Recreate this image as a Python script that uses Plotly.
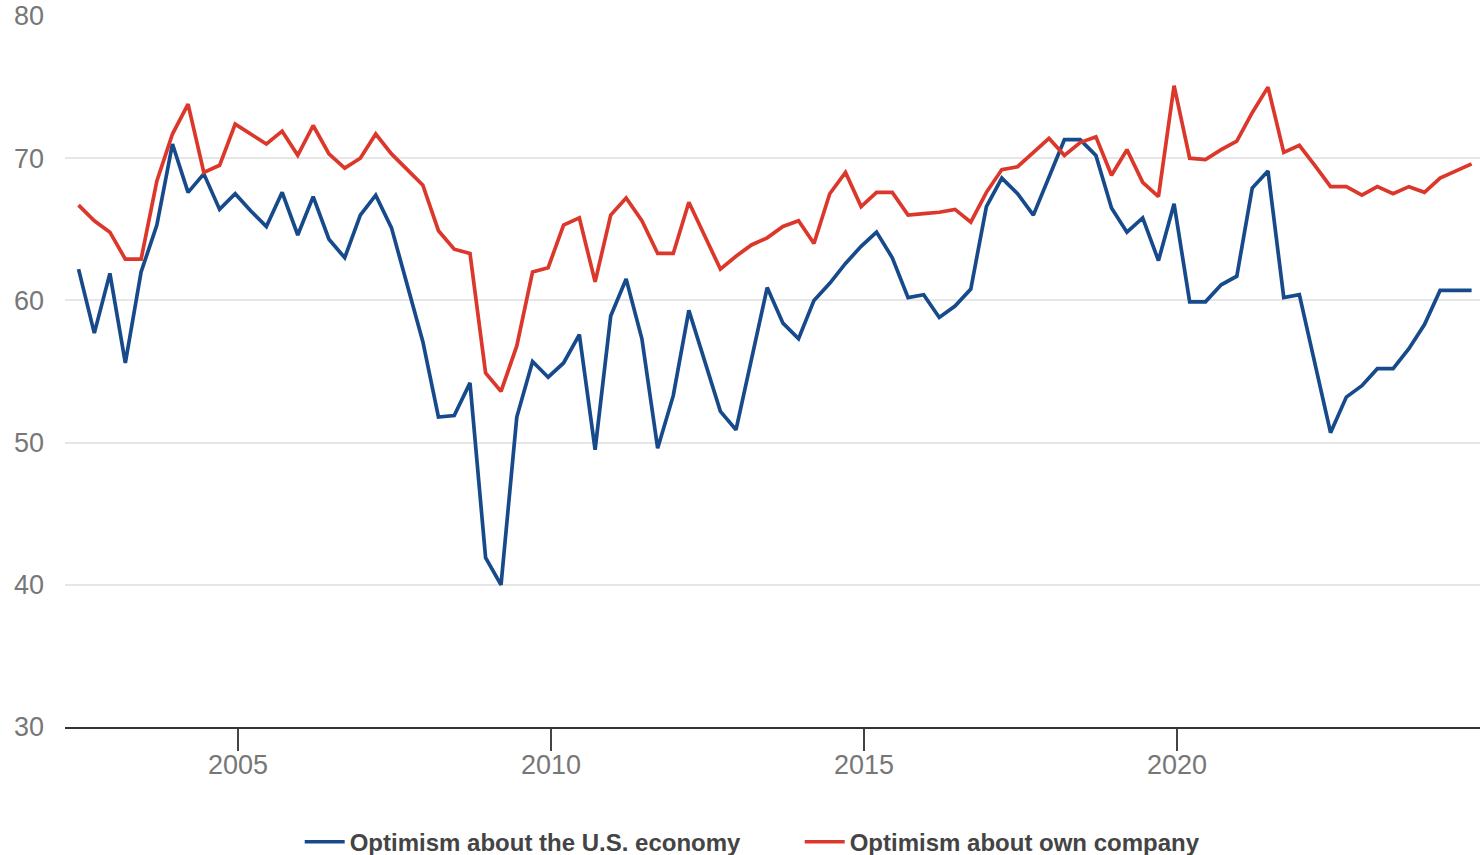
import pandas as pd
import plotly.graph_objects as go

# Quarterly survey dates (mid-month of each survey quarter)
dates = pd.date_range("2002-06-15", periods=90, freq=pd.DateOffset(months=3))

us_economy = [
    62.2, 57.7, 61.9, 55.6, 62.0, 65.3, 71.0, 67.6, 68.9, 66.4,
    67.5, 66.3, 65.2, 67.6, 64.6, 67.3, 64.3, 63.0, 66.0,
    67.4, 65.1, 61.1, 57.1, 51.8, 51.9, 54.2, 41.9, 40.0, 51.8,
    55.7, 54.6, 55.6, 57.6, 49.5, 58.9, 61.5,
    57.3, 49.6, 53.3, 59.3, 55.7, 52.2, 50.9, 55.9, 60.9, 58.4,
    57.3, 60.0, 61.2, 62.6, 63.8, 64.8, 63.0,
    60.2, 60.4, 58.8, 59.6, 60.8, 66.6, 68.6, 67.5, 66.0, 68.6,
    71.3, 71.3, 70.2, 66.5, 64.8, 65.8, 62.8, 66.8,
    59.9, 59.9, 61.1, 61.7, 67.9, 69.1, 60.2, 60.4, 55.5, 50.7,
    53.2, 54.0, 55.2, 55.2, 56.6, 58.3, 60.7, 60.7, 60.7,
]

own_company = [
    66.7, 65.6, 64.8, 62.9, 62.9, 68.4, 71.7, 73.8, 69.0, 69.5,
    72.4, 71.7, 71.0, 71.9, 70.2, 72.3, 70.3, 69.3, 70.0,
    71.7, 70.3, 69.2, 68.1, 64.9, 63.6, 63.3, 54.9, 53.6, 56.8,
    62.0, 62.3, 65.3, 65.8, 61.3, 66.0, 67.2,
    65.6, 63.3, 63.3, 66.9, 64.5, 62.2, 63.1, 63.9, 64.4, 65.2,
    65.6, 64.0, 67.5, 69.0, 66.6, 67.6, 67.6,
    66.0, 66.1, 66.2, 66.4, 65.5, 67.6, 69.2, 69.4, 70.4, 71.4,
    70.2, 71.1, 71.5, 68.8, 70.6, 68.3, 67.3, 75.1,
    70.0, 69.9, 70.6, 71.2, 73.2, 75.0, 70.4, 70.9, 69.5, 68.0,
    68.0, 67.4, 68.0, 67.5, 68.0, 67.6, 68.6, 69.1, 69.6,
]

series_names = ["Optimism about the U.S. economy", "Optimism about own company"]
series_colors = ["#174a8b", "#dc372b"]
y_ticks = [30, 40, 50, 60, 70, 80]

fig = go.Figure()
for name, vals, col in zip(series_names, [us_economy, own_company], series_colors):
    fig.add_trace(go.Scatter(
        x=dates, y=vals, mode="lines", name=name,
        line=dict(color=col, width=3.7),
    ))

fig.update_layout(
    width=1480, height=855,
    margin=dict(l=65, r=0, t=16, b=128),
    paper_bgcolor="white", plot_bgcolor="white",
    font=dict(family="Liberation Sans, Arial, sans-serif", size=27, color="#777777"),
    showlegend=True,
    legend=dict(
        orientation="h", xref="container", yref="container",
        x=0.2025, xanchor="left", y=0.015, yanchor="middle",
        font=dict(size=24, color="#444444", weight="bold"),
        entrywidth=445, entrywidthmode="pixels",
        itemwidth=40, tracegroupgap=0,
    ),
    xaxis=dict(
        type="date",
        range=["2002-03-28", "2024-11-03"],
        tick0="2005-01-01", dtick="M60", tickformat="%Y",
        showgrid=False, zeroline=False,
        showline=True, linecolor="#333333", linewidth=2,
        ticks="outside", ticklen=22, tickwidth=2, tickcolor="#444444",
        ticklabelstandoff=-9,
        tickfont=dict(size=27, color="#777777"),
    ),
    yaxis=dict(
        range=[30, 80], tickvals=y_ticks,
        showgrid=True, gridcolor="#e6e6e6", gridwidth=2,
        zeroline=False, showline=False,
        ticks="", ticklabelstandoff=20,
        tickfont=dict(size=27, color="#777777"),
    ),
)

fig.write_html("out.html")
